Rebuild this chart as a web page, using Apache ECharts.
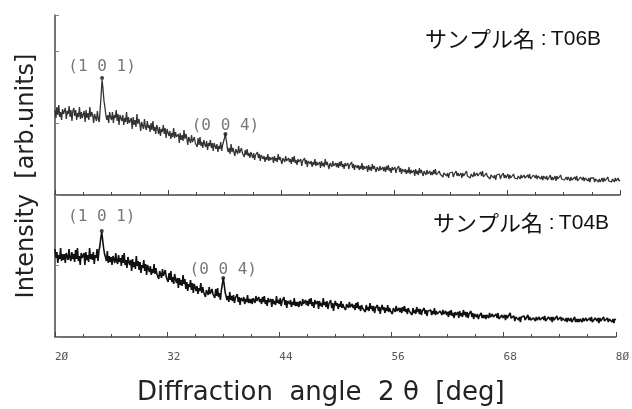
<!DOCTYPE html>
<html>
<head>
<meta charset="utf-8">
<script src="https://cdn.jsdelivr.net/npm/echarts@6/dist/echarts.min.js"></script>
<style>html,body{margin:0;padding:0;background:#fff}#c{width:632px;height:409px}</style>
</head>
<body>
<div id="c"></div>
<script>
// 2θ grid: 20° to 80°, step 0.1°
const angleStart = 20;
const angleStep = 0.1;
const xTicks = [20, 32, 44, 56, 68, 80];

// Sample T06B (upper pattern), arbitrary units
const t06b = [
85,77,88,80,90,78,83,75,86,81, 79,87,76,84,81,89,78,85,74,84,
87,79,85,75,82,78,88,76,83,77, 79,84,73,85,77,82,75,88,78,83,
80,72,81,83,74,84,76,73,86,100, 115,106,94,88,80,75,80,72,83,78,
75,83,72,80,77,85,74,81,70,80, 82,74,80,70,77,73,83,71,78,72,
72,77,66,78,70,75,68,81,71,76, 72,64,73,75,66,76,68,65,74,67,
70,63,72,65,74,64,68,61,70,66, 61,68,59,66,63,70,61,67,57,66,
66,59,64,56,62,58,67,57,63,58, 57,61,52,62,55,60,54,65,56,61,
57,50,58,59,52,60,53,51,58,52, 54,48,57,50,58,49,53,47,55,51,
48,54,45,52,49,55,47,52,44,52, 53,46,51,43,49,46,53,44,50,51,
57,61,54,47,43,47,41,51,43,47, 46,39,46,48,41,49,42,40,47,42,
43,38,45,40,46,39,42,37,43,40, 37,42,35,40,38,43,37,41,34,40,
41,36,39,33,38,35,41,34,38,35, 35,38,32,39,34,37,33,41,35,38,
36,31,37,38,33,39,34,32,37,33, 36,31,38,33,39,32,35,30,36,33,
31,36,29,34,32,37,31,35,28,34, 36,31,34,28,33,30,36,29,33,30,
30,33,27,34,29,32,28,36,30,33, 31,26,32,33,28,34,29,27,32,28,
32,27,33,29,34,28,31,26,32,29, 27,32,26,30,28,33,27,31,25,30,
31,27,30,25,29,26,32,25,29,26, 26,29,23,30,25,28,24,31,26,29,
27,23,28,29,24,29,25,23,28,24, 28,23,29,25,30,24,27,22,28,25,
23,28,22,26,24,29,23,27,21,26, 27,23,26,21,25,22,28,21,25,22,
22,25,19,26,21,24,20,27,22,25, 23,19,24,25,20,25,21,19,24,20,
23,20,25,21,26,20,22,19,24,21, 20,23,18,22,21,24,19,22,17,22,
24,20,23,18,21,20,24,19,22,19, 19,22,17,22,19,21,18,24,19,21,
21,17,21,22,18,23,19,18,22,19, 21,18,23,19,24,18,20,17,22,19,
18,21,16,20,19,22,17,20,15,20, 22,18,21,16,19,18,22,17,20,17,
18,21,16,20,17,19,17,21,17,19, 19,16,19,20,16,20,17,16,20,17,
19,16,20,17,21,16,18,15,20,18, 17,20,16,19,18,21,16,19,15,19,
19,16,19,15,17,16,20,15,18,15, 16,19,14,19,16,18,15,20,16,18,
17,15,17,18,15,18,16,14,18,15, 17,14,18,15,19,14,16,13,18,16,
15,18,14,17,16,19,14,17,13,17, 17,15,17,13,16,14,18,13,16,13,
15,17,13,17,14,16,14,18,14,16, 16,13,16,17,13,17,14,13,17,14,
15
];

// Sample T04B (lower pattern), arbitrary units
const t04b = [
88,79,85,74,82,78,89,76,83,77, 83,74,84,86,77,88,79,76,85,78,
83,75,87,78,89,76,81,72,84,79, 79,84,72,85,77,82,75,89,78,83,
77,85,73,82,79,88,76,86,91,99, 105,97,89,83,80,76,86,74,81,75,
80,72,81,83,74,84,76,73,82,75, 79,71,82,74,84,72,77,69,80,75,
72,77,66,78,70,75,68,81,71,76, 67,75,64,72,69,77,66,73,62,72,
72,65,71,62,68,64,73,63,69,63, 65,58,66,67,59,68,61,59,67,60,
62,55,64,57,66,55,60,53,63,58, 54,59,49,59,52,57,51,62,53,58,
48,55,46,53,50,57,47,54,44,53, 53,46,51,43,49,46,54,44,50,45,
47,40,47,49,42,50,43,41,48,43, 45,39,48,41,49,40,44,37,47,52,
59,53,45,43,37,41,35,45,37,41, 36,42,34,39,37,43,35,40,32,39,
41,36,40,33,38,35,42,34,38,34, 38,33,39,40,34,41,36,34,40,35,
38,33,40,35,41,33,37,31,39,35, 35,38,30,38,33,36,32,41,34,37,
33,39,31,36,34,40,32,37,29,36, 38,33,37,30,35,32,39,31,35,31,
35,30,36,37,31,38,33,31,37,32, 36,31,38,33,39,31,35,29,37,33,
32,36,28,36,31,34,30,39,32,35, 30,36,28,33,31,37,29,34,26,33,
36,31,34,28,33,30,36,29,33,30, 32,27,33,34,29,35,30,28,33,29,
32,27,34,29,35,28,31,26,32,29, 28,31,25,32,27,30,26,34,28,31,
26,31,24,29,27,32,26,30,23,29, 32,27,30,24,29,26,32,25,29,26,
28,23,29,30,25,31,26,24,29,25, 29,24,30,26,31,25,28,23,29,26,
25,28,22,29,24,27,23,30,25,28, 23,28,22,26,24,29,23,27,21,26,
28,24,27,22,26,23,29,22,26,23, 25,21,26,27,22,27,23,21,26,22,
25,20,26,22,27,21,24,19,25,22, 22,25,19,26,21,24,20,27,22,25,
20,25,19,23,21,26,20,24,18,23, 24,20,23,18,21,20,24,19,22,19,
22,18,22,23,19,24,20,19,23,20, 21,18,23,19,24,18,20,17,22,19,
19,22,17,22,19,21,18,24,19,21, 18,21,16,20,19,22,17,20,15,20,
21,18,21,17,19,18,22,17,20,17, 19,16,19,20,16,20,17,16,20,17,
19,16,20,17,21,16,18,15,20,18, 17,20,15,20,17,19,16,21,17,19,
17,20,16,19,18,21,16,19,15,19, 19,16,19,15,17,16,20,15,18,15,
18,15,18,19,15,19,16,15,19,16, 18,15,19,16,20,15,17,14,19,17,
16,19,14,19,16,18,15,20,16,18, 16,19,15,18,17,20,15,18,14,18,
17
];

// Peak markers
const peakLabels = ['(1 0 1)', '(0 0 4)'];
const peakAnglesT06B = [25.0, 38.1];
const peakValuesT06B = [117, 61];
const peakAnglesT04B = [25.0, 38.0];
const peakValuesT04B = [106, 59];

const sampleTop = 'T06B';
const sampleBottom = 'T04B';

function toPairs(vals) {
  return vals.map((v, i) => [+(angleStart + i * angleStep).toFixed(1), v]);
}
function peakItems(angles, values, distances) {
  return angles.map((a, i) => ({
    value: [a, values[i]],
    label: { formatter: peakLabels[i], distance: distances[i] }
  }));
}

const axisColor = '#444';
function xAxisCfg(gridIndex, showLabels) {
  return {
    type: 'value', gridIndex, min: xTicks[0], max: xTicks[xTicks.length - 1], interval: 12,
    axisLine: { show: true, onZero: false, lineStyle: { color: axisColor, width: 1.5 } },
    axisTick: { show: true, inside: true, length: 5, lineStyle: { color: axisColor } },
    minorTick: { show: true, splitNumber: 4, length: 3, lineStyle: { color: axisColor } },
    splitLine: { show: false },
    axisLabel: {
      show: showLabels, align: 'left', margin: 15,
      fontFamily: 'DejaVu Sans Mono', fontSize: 11, color: '#555',
      formatter: v => String(v).replace(/0/g, '\u00d8'),
      showMaxLabel: true, showMinLabel: true
    }
  };
}
function yAxisCfg(gridIndex, max) {
  return {
    type: 'value', gridIndex, min: 0, max, interval: 72,
    axisLine: { show: true, lineStyle: { color: axisColor, width: 1.5 } },
    axisTick: { show: true, inside: true, length: 4, lineStyle: { color: '#888' } },
    axisLabel: { show: false },
    splitLine: { show: false }
  };
}

const labelStyle = { show: true, position: 'top', fontFamily: 'DejaVu Sans Mono', fontSize: 16, color: '#555' };
const richName = {
  a: { fontFamily: 'Noto Sans CJK JP', fontSize: 22, fill: '#111' },
  b: { fontFamily: 'Liberation Sans', fontSize: 21, fill: '#111' }
};

const chart = echarts.init(document.getElementById('c'), null, { renderer: 'canvas' });
chart.setOption({
  animation: false,
  backgroundColor: '#fff',
  grid: [
    { left: 55, right: 12, top: 15, height: 180 },
    { left: 55, right: 12, top: 195, height: 142 }
  ],
  xAxis: [xAxisCfg(0, false), xAxisCfg(1, true)],
  yAxis: [yAxisCfg(0, 180), yAxisCfg(1, 142)],
  series: [
    { type: 'line', xAxisIndex: 0, yAxisIndex: 0, data: toPairs(t06b), showSymbol: false,
      lineStyle: { color: '#333', width: 1.3 }, z: 2 },
    { type: 'line', xAxisIndex: 1, yAxisIndex: 1, data: toPairs(t04b), showSymbol: false,
      lineStyle: { color: '#111', width: 1.6 }, z: 2 },
    { type: 'scatter', xAxisIndex: 0, yAxisIndex: 0, symbolSize: 4,
      itemStyle: { color: '#111' }, z: 3, label: labelStyle,
      data: peakItems(peakAnglesT06B, peakValuesT06B, [1, -2]) },
    { type: 'scatter', xAxisIndex: 1, yAxisIndex: 1, symbolSize: 4,
      itemStyle: { color: '#111' }, z: 3, label: labelStyle,
      data: peakItems(peakAnglesT04B, peakValuesT04B, [4, -2]) }
  ],
  graphic: [
    { type: 'text', x: 425, y: 39, style: {
        text: '{a|サンプル名}{b| :\u2009' + sampleTop + '}', verticalAlign: 'middle', fill: '#111', rich: richName } },
    { type: 'text', x: 433, y: 223, style: {
        text: '{a|サンプル名}{b| :\u2009' + sampleBottom + '}', verticalAlign: 'middle', fill: '#111', rich: richName } },
    { type: 'text', x: 27, y: 176, rotation: Math.PI / 2, style: {
        text: 'Intensity  [arb.units]', align: 'center', verticalAlign: 'middle',
        fontFamily: 'DejaVu Sans', fontSize: 24, fill: '#222' } },
    { type: 'text', x: 137, y: 393, style: {
        text: 'Diffraction  angle  2 \u03b8  [deg]', align: 'left', verticalAlign: 'middle',
        fontFamily: 'DejaVu Sans', fontSize: 26, fill: '#222' } }
  ]
});
</script>
</body>
</html>
